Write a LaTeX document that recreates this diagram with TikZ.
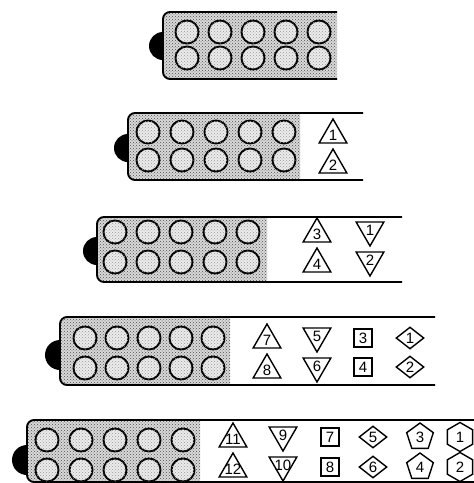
\documentclass[tikz,border=0pt]{standalone}
\usepackage{fontspec}
\setsansfont{Liberation Sans}
\usetikzlibrary{shapes.geometric,patterns}
\newcommand{\num}[1]{\makebox[0pt]{#1}}

\begin{document}
\begin{tikzpicture}[x=1pt, y=-1pt,
    well/.style={circle, draw, line width=1.9pt, fill=gray!15, postaction={pattern=crosshatch dots, pattern color=black!40}, minimum size=23pt, inner sep=0pt},
    body/.style={line width=1.9pt, rounded corners=7pt},
    grain/.style={fill=gray!30, postaction={pattern=crosshatch dots, pattern color=black!70}},
    knob/.style={fill=black},
    tag/.style={draw, line width=1.4pt, inner sep=0pt, font=\sffamily\fontsize{15}{15}\selectfont},
    triup/.style={tag, regular polygon, regular polygon sides=3, minimum size=32pt},
    tridown/.style={triup, shape border rotate=180},
    sq/.style={tag, rectangle, minimum size=18pt},
    dia/.style={tag, diamond, minimum width=28pt, minimum height=22pt},
    penta/.style={tag, regular polygon, regular polygon sides=5, minimum size=28pt},
    hexa/.style={tag, regular polygon, regular polygon sides=6, shape border rotate=30, minimum size=29pt}]

    \useasboundingbox (0,0) rectangle (474,483);

    % Strip 1: all wells, no marks
    \fill[knob] (163,46) circle (14pt);
    \begin{scope}
        \clip (150,0) rectangle (337,90);
        \fill[grain, rounded corners=7pt] (163,12) rectangle (350,79);
    \end{scope}
    \draw[body] (337,12) -- (163,12) -- (163,79) -- (337,79);
    \foreach \x [count=\i] in {187,220,253,286,319} {
        \node[well] (p1a\i) at (\x,32) {};
        \node[well] (p1b\i) at (\x,58) {};
    }

    % Strip 2
    \fill[knob] (128,148) circle (14pt);
    \begin{scope}
        \clip (110,100) rectangle (300,190);
        \fill[grain, rounded corners=7pt] (128,113) rectangle (320,180);
    \end{scope}
    \draw[body] (363,113) -- (128,113) -- (128,180) -- (363,180);
    \foreach \x [count=\i] in {148,182,216,250,284} {
        \node[well] (p2a\i) at (\x,132) {};
        \node[well] (p2b\i) at (\x,160) {};
    }
    \node[triup] (t21) at (333,135) {\num{1}};
    \node[triup] (t22) at (333,165) {\num{2}};

    % Strip 3
    \fill[knob] (97,251) circle (14pt);
    \begin{scope}
        \clip (80,200) rectangle (267,290);
        \fill[grain, rounded corners=7pt] (97,217) rectangle (290,282);
    \end{scope}
    \draw[body] (402,217) -- (97,217) -- (97,282) -- (402,282);
    \foreach \x [count=\i] in {115,148,181,215,248} {
        \node[well] (p3a\i) at (\x,232) {};
        \node[well] (p3b\i) at (\x,262) {};
    }
    \node[triup] (t33) at (317,234) {\num{3}};
    \node[triup] (t34) at (317,264) {\num{4}};
    \node[tridown] (d31) at (370,230) {\num{1}};
    \node[tridown] (d32) at (370,260) {\num{2}};

    % Strip 4
    \fill[knob] (60,355) circle (15pt);
    \begin{scope}
        \clip (40,300) rectangle (230,395);
        \fill[grain, rounded corners=7pt] (60,317) rectangle (250,385);
    \end{scope}
    \draw[body] (435,317) -- (60,317) -- (60,385) -- (435,385);
    \foreach \x [count=\i] in {85,117,149,181,213} {
        \node[well] (p4a\i) at (\x,338) {};
        \node[well] (p4b\i) at (\x,368) {};
    }
    \node[triup] (t47) at (267,340) {\num{7}};
    \node[triup] (t48) at (267,370) {\num{8}};
    \node[tridown] (d45) at (317,336) {\num{5}};
    \node[tridown] (d46) at (317,366) {\num{6}};
    \node[sq] (s43) at (363,338) {\num{3}};
    \node[sq] (s44) at (363,367) {\num{4}};
    \node[dia] (r41) at (410,338) {\num{1}};
    \node[dia] (r42) at (410,367) {\num{2}};

    % Strip 5
    \fill[knob] (27,460) circle (15pt);
    \begin{scope}
        \clip (10,405) rectangle (200,490);
        \fill[grain, rounded corners=7pt] (27,420) rectangle (220,482);
    \end{scope}
    \draw[body] (474,420) -- (27,420) -- (27,482) -- (474,482);
    \foreach \x [count=\i] in {47,81,115,149,183} {
        \node[well] (p5a\i) at (\x,440) {};
        \node[well] (p5b\i) at (\x,470) {};
    }
    \node[triup] (t511) at (233,439) {\num{11}};
    \node[triup] (t512) at (233,469) {\num{12}};
    \node[tridown] (d59) at (283,435) {\num{9}};
    \node[tridown] (d510) at (283,465) {\num{10}};
    \node[sq] (s57) at (330,437) {\num{7}};
    \node[sq] (s58) at (330,467) {\num{8}};
    \node[dia] (r55) at (373,437) {\num{5}};
    \node[dia] (r56) at (373,467) {\num{6}};
    \node[penta] (g53) at (420,437) {\num{3}};
    \node[penta] (g54) at (420,467) {\num{4}};
    \node[hexa] (h51) at (460,437) {\num{1}};
    \node[hexa] (h52) at (460,467) {\num{2}};
\end{tikzpicture}
\end{document}
